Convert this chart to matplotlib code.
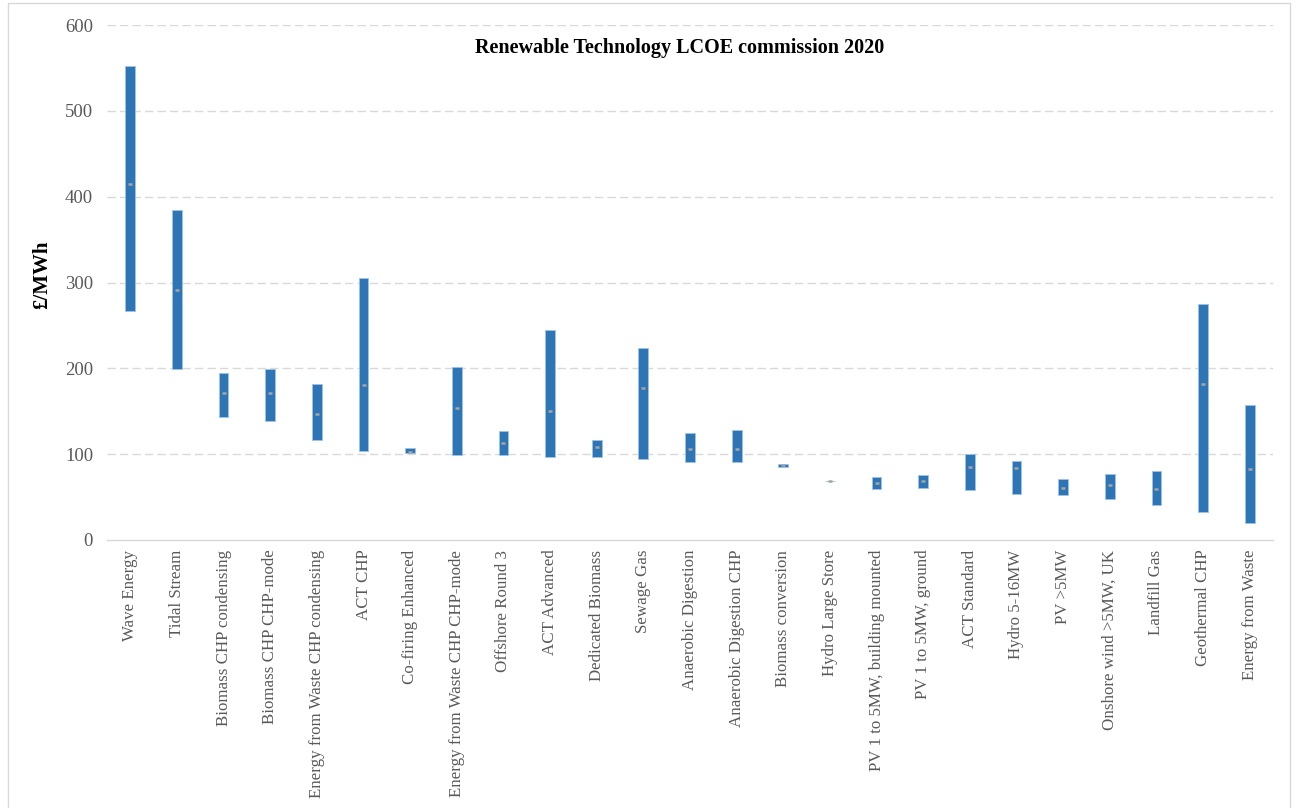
import matplotlib
matplotlib.use("Agg")
import matplotlib.pyplot as plt
from matplotlib.patches import Rectangle
import numpy as np

categories = [
    "Wave Energy", "Tidal Stream", "Biomass CHP condensing", "Biomass CHP CHP-mode",
    "Energy from Waste CHP condensing", "ACT CHP", "Co-firing Enhanced",
    "Energy from Waste CHP CHP-mode", "Offshore Round 3", "ACT Advanced",
    "Dedicated Biomass", "Sewage Gas", "Anaerobic Digestion", "Anaerobic Digestion CHP",
    "Biomass conversion", "Hydro Large Store", "PV 1 to 5MW, building mounted",
    "PV 1 to 5MW, ground", "ACT Standard", "Hydro 5-16MW", "PV >5MW",
    "Onshore wind >5MW, UK", "Landfill Gas", "Geothermal CHP", "Energy from Waste",
]
low = [267, 199, 143, 139, 117, 103.5, 101, 99, 99, 97, 97, 94, 91, 90.5,
       85.3, 68.3, 60, 60.5, 58.5, 54, 52.7, 47.3, 40.3, 32.2, 20.1]
high = [552, 385, 194, 199, 182, 305, 107.4, 201.5, 127, 245, 117, 224, 125, 128,
        88.4, 68.3, 73.3, 76, 100, 92.2, 70.6, 77.1, 79.9, 275.5, 157.5]
median = [415, 291.5, 171, 171, 147.3, 180.2, 103.1, 154, 112.8, 150.4, 108, 176.7,
          106.4, 106.6, 87.2, 68.3, 66.6, 68.6, 85.2, 84.1, 60.8, 63.6, 59.7, 181.4, 82.2]
yticks = [0, 100, 200, 300, 400, 500, 600]

plt.rcParams['font.family'] = ['Liberation Serif', 'DejaVu Serif']

fig = plt.figure(figsize=(12.97, 8.08), dpi=100)
ax = fig.add_axes([107 / 1297, 1 - 540 / 808, (1273 - 107) / 1297, (540 - 25) / 808])

x = np.arange(len(categories))
lo = np.array(low)
hi = np.array(high)
ax.bar(x, hi - lo, bottom=lo, width=0.21, color='#2E75B6',
       edgecolor='#9DC3E6', linewidth=0.6, zorder=3)
ax.plot(x, median, linestyle='none', marker='_', markersize=3.5,
        markeredgewidth=1.8, color='#A5A5A5', zorder=4)

ax.set_ylim(0, 600)
ax.set_xlim(-0.5, len(categories) - 0.5)
ax.set_yticks(yticks)
ax.set_yticklabels([str(v) for v in yticks], fontsize=13.5, color='#595959')
ax.set_xticks(x)
ax.set_xticklabels(categories, rotation=90, fontsize=12.2, color='#595959',
                   va='top', ha='center')
ax.tick_params(axis='both', length=0)
ax.tick_params(axis='y', pad=10)
ax.tick_params(axis='x', pad=7)

for v in yticks[1:]:
    ax.axhline(v, color='#D9D9D9', linewidth=1, linestyle=(0, (6, 3)), zorder=1)
for s in ['top', 'right', 'left']:
    ax.spines[s].set_visible(False)
ax.spines['bottom'].set_color('#D9D9D9')
ax.spines['bottom'].set_linewidth(1)

fig.text(42 / 1297, 1 - 275 / 808, '£/MWh', rotation=90, ha='center', va='center',
         fontsize=15, fontweight='bold', color='black')

fig.text(680 / 1297, 1 - 48 / 808, 'Renewable Technology LCOE commission 2020',
         ha='center', va='center', fontsize=14.5, fontweight='bold', color='black')

fig.patches.append(Rectangle((8 / 1297, -0.01), (1290 - 8) / 1297, 1 - 3 / 808 + 0.01,
                             transform=fig.transFigure, fill=False,
                             edgecolor='#D9D9D9', linewidth=1))

fig.savefig('out.png', dpi=100)
